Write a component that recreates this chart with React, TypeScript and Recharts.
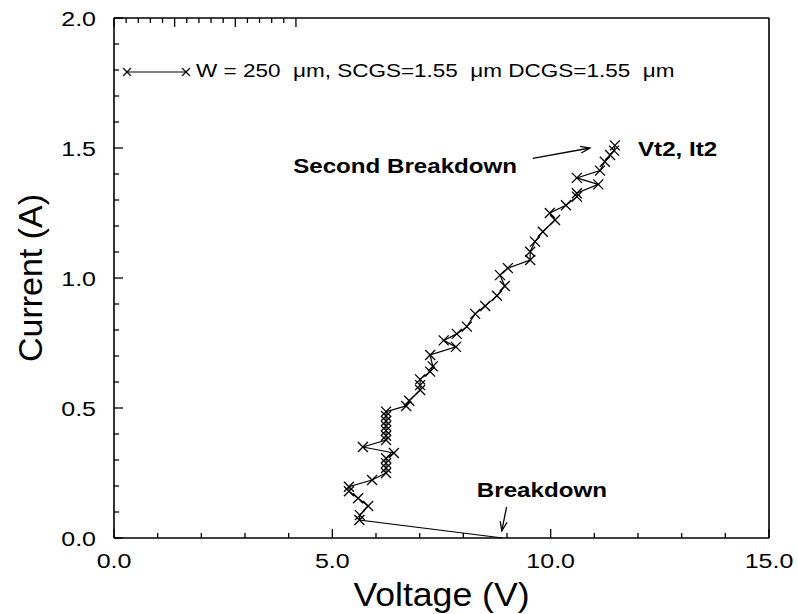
import React from 'react';
import { LineChart, Line, XAxis, YAxis, ReferenceLine, ReferenceDot, Legend } from 'recharts';

// measured sweep, in the order it was taken
const voltage = [
  8.9, 5.62, 5.63, 5.82, 5.59, 5.38, 5.38, 5.91, 6.23, 6.23, 6.23, 6.23, 6.41, 5.7,
  6.23, 6.23, 6.23, 6.23, 6.23, 6.23, 6.23, 6.69, 6.76, 7.01, 7.01, 7.01, 7.24, 7.3,
  7.24, 7.83, 7.55, 7.85, 8.08, 8.27, 8.5, 8.77, 8.95, 8.84, 9.02, 9.53, 9.53, 9.64,
  9.82, 10.1, 9.98, 10.35, 10.6, 10.6, 11.09, 10.6, 11.13, 11.24, 11.36, 11.45, 11.47,
];
const current = [
  0.0, 0.069, 0.088, 0.123, 0.153, 0.18, 0.197, 0.223, 0.25, 0.269, 0.288, 0.307, 0.327, 0.35,
  0.377, 0.393, 0.413, 0.431, 0.45, 0.469, 0.486, 0.508, 0.528, 0.569, 0.588, 0.61, 0.64, 0.66,
  0.704, 0.735, 0.76, 0.785, 0.813, 0.862, 0.892, 0.932, 0.969, 1.011, 1.038, 1.069, 1.101, 1.14,
  1.178, 1.223, 1.25, 1.28, 1.313, 1.326, 1.36, 1.385, 1.413, 1.447, 1.473, 1.49, 1.51,
];

const xTicks = [0, 1, 2, 3, 4, 5, 6, 7, 8, 9, 10, 11, 12, 13, 14, 15];
const yTicks = [
  0, 0.1, 0.2, 0.3, 0.4, 0.5, 0.6, 0.7, 0.8, 0.9, 1.0,
  1.1, 1.2, 1.3, 1.4, 1.5, 1.6, 1.7, 1.8, 1.9, 2.0,
];
const legendText = 'W = 250  \u03bcm, SCGS=1.55  \u03bcm DCGS=1.55  \u03bcm';

const data = voltage.map((v, k) => ({ v, i: current[k] }));

const FONT = '"Liberation Sans", Arial, Helvetica, sans-serif';

const isMajorX = (v: number) => v % 5 === 0;
const isMajorY = (v: number) => Math.abs(v * 2 - Math.round(v * 2)) < 1e-6;

// the scanned lettering is wider than Arial, so stretch it a bit
const Wide = ({ x, y, sx = 1.25, children, ...rest }: any) => (
  <text transform={`translate(${x},${y}) scale(${sx},1)`} fontFamily={FONT} fill="#000" {...rest}>
    {children}
  </text>
);

const BottomTick = (p: any) => {
  const v = p.payload.value;
  const major = isMajorX(v);
  return (
    <g>
      <line x1={p.x} x2={p.x} y1={p.y} y2={p.y - (major ? 9 : 5)} stroke="#000" strokeWidth={1.3} />
      {major && (
        <Wide x={p.x} y={p.y + 30} textAnchor="middle" fontSize={20}>
          {v.toFixed(1)}
        </Wide>
      )}
    </g>
  );
};

const TopTick = (p: any) => {
  const major = isMajorX(p.payload.value);
  return <line x1={p.x} x2={p.x} y1={p.y} y2={p.y + (major ? 9 : 5)} stroke="#000" strokeWidth={1.3} />;
};

const LeftTick = (p: any) => {
  const v = p.payload.value;
  const major = isMajorY(v);
  return (
    <g>
      <line x1={p.x} x2={p.x + (major ? 9 : 5)} y1={p.y} y2={p.y} stroke="#000" strokeWidth={1.3} />
      {major && (
        <Wide x={p.x - 18} y={p.y + 7.5} textAnchor="end" fontSize={20}>
          {v.toFixed(1)}
        </Wide>
      )}
    </g>
  );
};

const RightTick = (p: any) => {
  const major = isMajorY(p.payload.value);
  return <line x1={p.x} x2={p.x - (major ? 9 : 5)} y1={p.y} y2={p.y} stroke="#000" strokeWidth={1.3} />;
};

const Cross = (p: any) => {
  const key = `m${p.index}`;
  if (p.index === 0) return <g key={key} />;
  const s = 5;
  const { cx, cy } = p;
  return (
    <path
      key={key}
      d={`M${cx - s},${cy - s}L${cx + s},${cy + s}M${cx - s},${cy + s}L${cx + s},${cy - s}`}
      stroke="#000"
      strokeWidth={1.3}
      fill="none"
    />
  );
};

const Arrow = (p: any) => {
  const { x1, y1, x2, y2 } = p;
  const ang = Math.atan2(y2 - y1, x2 - x1);
  const L = 10;
  const a = 0.35;
  const hx1 = x2 - L * Math.cos(ang - a);
  const hy1 = y2 - L * Math.sin(ang - a);
  const hx2 = x2 - L * Math.cos(ang + a);
  const hy2 = y2 - L * Math.sin(ang + a);
  return (
    <g>
      <line x1={x1} y1={y1} x2={x2} y2={y2} stroke="#000" strokeWidth={1.3} />
      <polyline points={`${hx1},${hy1} ${x2},${y2} ${hx2},${hy2}`} stroke="#000" strokeWidth={1.3} fill="none" />
    </g>
  );
};

const note = (text: string, anchor: 'start' | 'end') => (p: any) => (
  <Wide x={p.cx} y={p.cy} sx={1.15} textAnchor={anchor} fontSize={21} fontWeight="bold">
    {text}
  </Wide>
);

const LegendBox = () => (
  <div style={{ display: 'flex', alignItems: 'center', fontFamily: FONT, fontSize: 18, whiteSpace: 'pre', color: '#000' }}>
    <svg width={76} height={14} style={{ display: 'block' }}>
      <line x1={7} y1={7} x2={66} y2={7} stroke="#000" strokeWidth={1.2} />
      <path d="M3,3L11,11M3,11L11,3" stroke="#000" strokeWidth={1.2} />
      <path d="M62,3L70,11M62,11L70,3" stroke="#000" strokeWidth={1.2} />
    </svg>
    <span style={{ display: 'inline-block', transform: 'scaleX(1.25)', transformOrigin: 'left center' }}>{legendText}</span>
  </div>
);

export default function App() {
  return (
    <div style={{ position: 'absolute', left: 0, top: 0, background: '#fff' }}>
      <LineChart width={798} height={614} data={data} margin={{ top: 0, right: 0, bottom: 0, left: 0 }}>
        <XAxis
          dataKey="v"
          type="number"
          domain={[0, 15]}
          ticks={xTicks}
          interval={0}
          height={76}
          tickSize={0}
          tickMargin={0}
          tick={BottomTick}
          axisLine={{ stroke: '#000', strokeWidth: 1.6 }}
          label={{
            content: (p: any) => {
              const vb = p.viewBox;
              return (
                <Wide x={vb.x + vb.width / 2} y={vb.y + 68} sx={1.08} textAnchor="middle" fontSize={33}>
                  Voltage (V)
                </Wide>
              );
            },
          }}
        />
        <XAxis
          xAxisId="top"
          orientation="top"
          type="number"
          domain={[0, 15]}
          ticks={xTicks}
          interval={0}
          height={18}
          tickSize={0}
          tickMargin={0}
          tick={TopTick}
          axisLine={{ stroke: '#000', strokeWidth: 1.6 }}
        />
        <YAxis
          type="number"
          domain={[0, 2]}
          ticks={yTicks}
          interval={0}
          width={114}
          tickSize={0}
          tickMargin={0}
          tick={LeftTick}
          axisLine={{ stroke: '#000', strokeWidth: 1.6 }}
          label={{
            content: (p: any) => {
              const vb = p.viewBox;
              const cy = vb.y + vb.height / 2;
              return (
                <text x={42} y={cy} transform={`rotate(-90, 42, ${cy})`} textAnchor="middle" fontSize={34} fontFamily={FONT} fill="#000">
                  Current (A)
                </text>
              );
            },
          }}
        />
        <YAxis
          yAxisId="right"
          orientation="right"
          type="number"
          domain={[0, 2]}
          ticks={yTicks}
          interval={0}
          width={29}
          tickSize={0}
          tickMargin={0}
          tick={RightTick}
          axisLine={{ stroke: '#000', strokeWidth: 1.6 }}
        />
        <Legend
          layout="horizontal"
          verticalAlign="middle"
          align="center"
          content={LegendBox}
          wrapperStyle={{ left: 120, top: 61, width: 'auto', height: 'auto' }}
        />
        <ReferenceLine segment={[{ x: 9.59, y: 1.46 }, { x: 10.9, y: 1.5 }]} shape={Arrow} />
        <ReferenceLine segment={[{ x: 8.99, y: 0.119 }, { x: 8.88, y: 0.027 }]} shape={Arrow} />
        <ReferenceDot x={9.23} y={1.405} r={0} shape={note('Second Breakdown', 'end')} />
        <ReferenceDot x={12.0} y={1.47} r={0} shape={note('Vt2, It2', 'start')} />
        <ReferenceDot x={8.31} y={0.158} r={0} shape={note('Breakdown', 'start')} />
        <Line
          dataKey="i"
          type="linear"
          stroke="#000"
          strokeWidth={1.2}
          dot={Cross}
          activeDot={false}
          isAnimationActive={false}
          legendType="none"
        />
      </LineChart>
    </div>
  );
}
